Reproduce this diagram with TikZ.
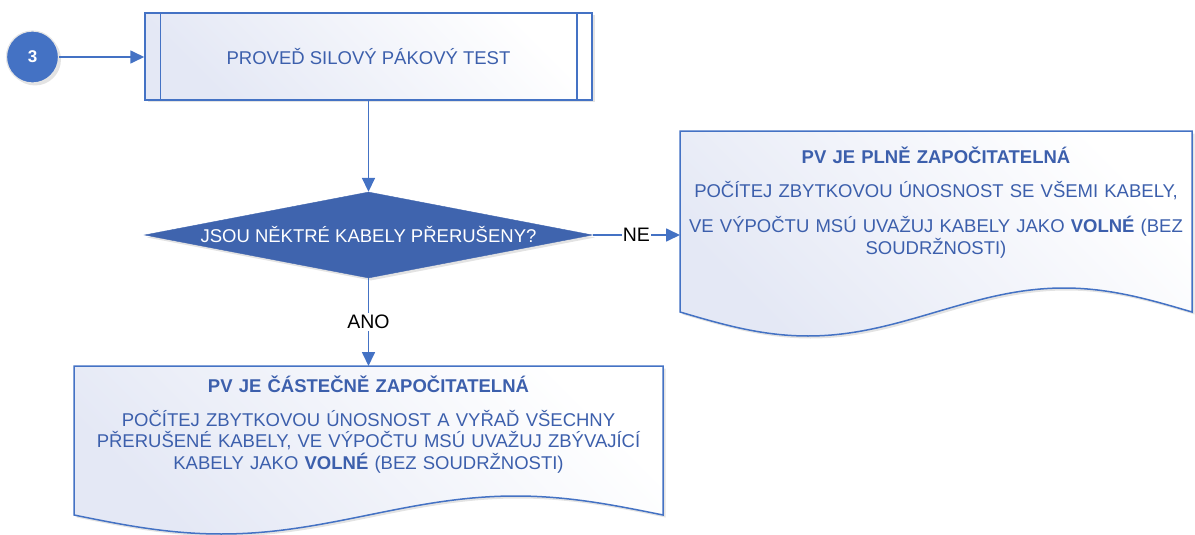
\documentclass[tikz,border=0pt]{standalone}
\usepackage{fontspec}
\setmainfont{Liberation Sans}
\usetikzlibrary{shapes.geometric,arrows.meta,shadows,calc}
\definecolor{bord}{HTML}{4472C4}
\definecolor{txt}{HTML}{3C5FAC}
\definecolor{dfill}{HTML}{3F64AE}
\definecolor{lav}{HTML}{E4E8F5}
\begin{document}
\begin{tikzpicture}[x=1pt,y=-1pt,
  conn/.style={draw=bord, line width=1.7pt, -{Triangle[length=14pt,width=13pt]}},
  lbl/.style={font=\fontsize{19.5}{22}\selectfont, text=black, fill=white, inner xsep=1pt, inner ysep=2pt},
  shadebox/.style={top color=white, bottom color=lav, shading angle=-45},
  shadowed/.style={drop shadow={shadow xshift=2.5pt, shadow yshift=-2.5pt, opacity=0.22}},
  body/.style={font=\fontsize{18.5}{21.5}\selectfont, text=txt, align=center, inner sep=0pt},
  outline/.style={draw=bord, line width=1.5pt},
]
\useasboundingbox (0,0) rectangle (1195,535);

% start connector circle
\node[circle, fill=bord, draw=white!80!gray, line width=1.2pt, minimum size=52pt, inner sep=0pt,
      shadowed, text=white, font=\bfseries\fontsize{17}{19}\selectfont] (start) at (32.5,57) {3};

% predefined process
\node[outline, shadebox, shadowed, minimum width=447pt, minimum height=87pt, inner sep=0pt,
      font=\fontsize{18.5}{22}\selectfont, text=txt] (proc) at (368.5,56.5) {PROVEĎ SILOVÝ PÁKOVÝ TEST};
\draw[outline] ([xshift=16pt]proc.north west) -- ([xshift=16pt]proc.south west);
\draw[outline] ([xshift=-16pt]proc.north east) -- ([xshift=-16pt]proc.south east);

% decision
\node[diamond, aspect=5.2, minimum width=448pt, minimum height=86pt, inner sep=0pt,
      fill=dfill, draw=dfill, shadowed, text=white, font=\fontsize{18.5}{22}\selectfont]
      (dec) at (368.5,235) {JSOU NĚKTRÉ KABELY PŘERUŠENY?};

% right document
\coordinate (plneNW) at (680,131);
\coordinate (plneNE) at (1192,131);
\path[outline, shadebox, shadowed] (plneNW) -- (plneNE) -- ++(0,181)
   sin ++(-128,-24) cos ++(-128,24) sin ++(-128,24) cos ++(-128,-24) -- cycle;
\node[body, text width=510pt, anchor=base] (plne) at (936,163)
  {\textbf{PV JE PLNĚ ZAPOČITATELNÁ}\\[13.5pt]
   POČÍTEJ ZBYTKOVOU ÚNOSNOST SE VŠEMI KABELY,\\[13.5pt]
   VE VÝPOČTU MSÚ UVAŽUJ KABELY JAKO \textbf{VOLNÉ} (BEZ\\
   SOUDRŽNOSTI)};

% bottom document
\coordinate (castNW) at (74,366);
\coordinate (castNE) at (663,366);
\path[outline, shadebox, shadowed] (castNW) -- (castNE) -- ++(0,149)
   sin ++(-147.25,-19) cos ++(-147.25,19) sin ++(-147.25,19) cos ++(-147.25,-19) -- cycle;
\node[body, text width=585pt, anchor=base] (cast) at (368.5,392)
  {\textbf{PV JE ČÁSTEČNĚ ZAPOČITATELNÁ}\\[12.5pt]
   POČÍTEJ ZBYTKOVOU ÚNOSNOST A VYŘAĎ VŠECHNY\\
   PŘERUŠENÉ KABELY, VE VÝPOČTU MSÚ UVAŽUJ ZBÝVAJÍCÍ\\
   KABELY JAKO \textbf{VOLNÉ} (BEZ SOUDRŽNOSTI)};

% connectors
\draw[conn] (start.east) -- (start.east -| proc.west);
\draw[conn] (proc.south) -- (dec.north);
\draw[conn] (dec.east) -- (dec.east -| plneNW) node[lbl, midway] {NE};
\draw[conn] (dec.south) -- (dec.south |- castNW) node[lbl, midway] {ANO};
\end{tikzpicture}
\end{document}
